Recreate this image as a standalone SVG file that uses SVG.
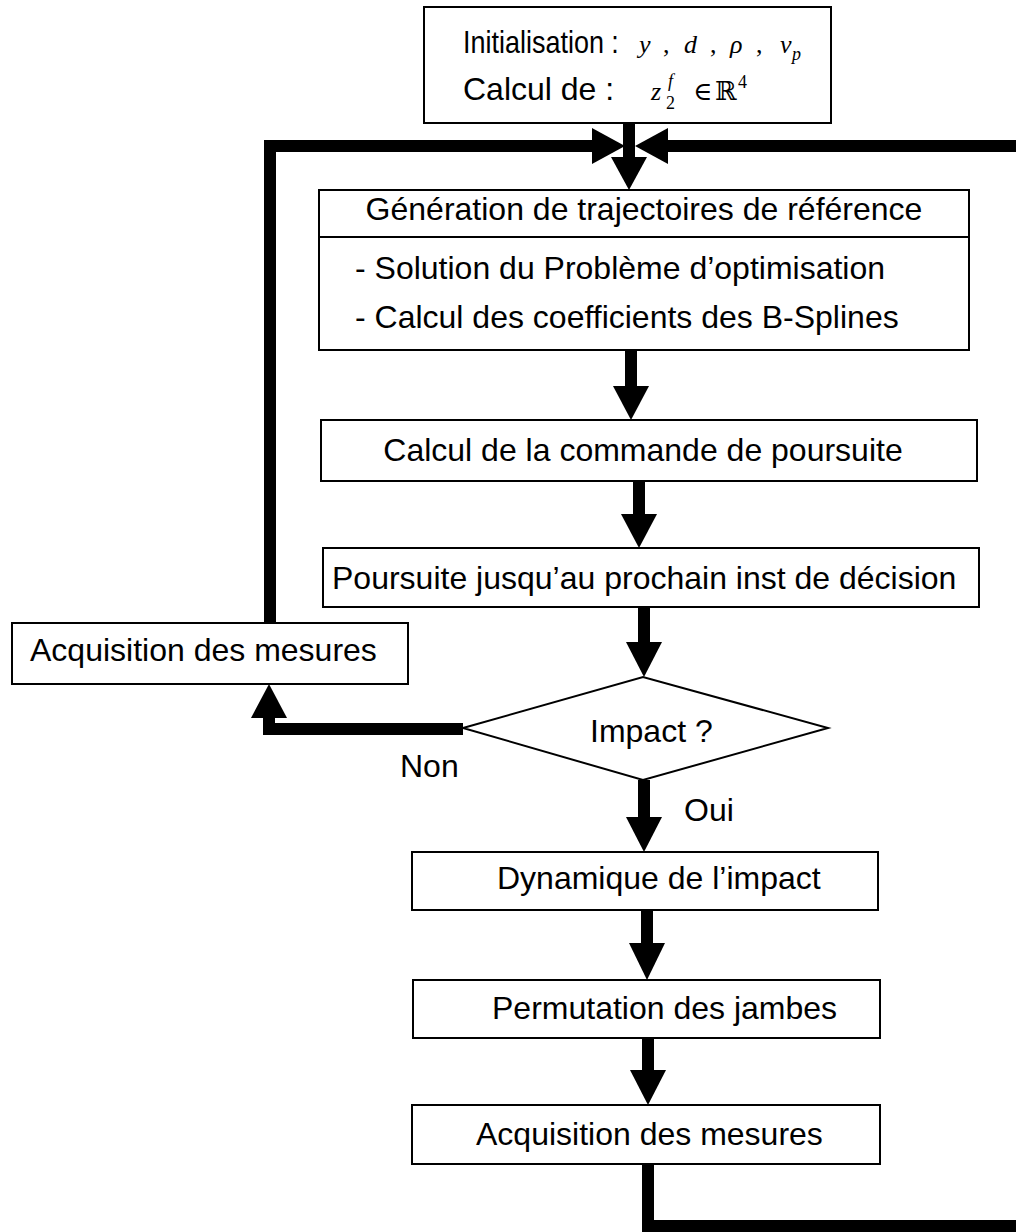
<svg xmlns="http://www.w3.org/2000/svg" width="1016" height="1232" viewBox="0 0 1016 1232">
<style>
.box{fill:#fff;stroke:#000;stroke-width:2}
.t{font-family:"Liberation Sans",Arial,sans-serif;font-size:32px;fill:#000}
.m{font-family:"Liberation Serif","Times New Roman",serif;font-size:26px;font-style:italic;fill:#000}
.mu{font-family:"Liberation Serif","DejaVu Serif","Times New Roman",serif;font-size:26px;font-style:normal;fill:#000}
.ms{font-family:"Liberation Serif","Times New Roman",serif;font-size:18px;fill:#000}
.ln{fill:none;stroke:#000;stroke-width:12;stroke-linejoin:miter;stroke-linecap:butt}
.hd{fill:#000;stroke:none}
</style>
<rect width="1016" height="1232" fill="#fff"/>
<g id="connectors">
<path class="ln" d="M629,123V158"/>
<polygon class="hd" points="611,157 647,157 629,190"/>
<path class="ln" d="M270,623V146H593"/>
<polygon class="hd" points="592,128 592,164 625,146"/>
<path class="ln" d="M1016,146H667"/>
<polygon class="hd" points="668,128 668,164 635,146"/>
<path class="ln" d="M631,350V387"/>
<polygon class="hd" points="613,386 649,386 631,420"/>
<path class="ln" d="M639,481V515"/>
<polygon class="hd" points="621,514 657,514 639,548"/>
<path class="ln" d="M644,607V643"/>
<polygon class="hd" points="626,642 662,642 644,677"/>
<path class="ln" d="M463,729H269V718"/>
<polygon class="hd" points="251,718 287,718 269,684"/>
<path class="ln" d="M644,780V818"/>
<polygon class="hd" points="626,817 662,817 644,852"/>
<path class="ln" d="M647,910V944"/>
<polygon class="hd" points="629,943 665,943 647,980"/>
<path class="ln" d="M648,1038V1071"/>
<polygon class="hd" points="630,1070 666,1070 648,1105"/>
<path class="ln" d="M648,1164V1226H1016"/>
</g>
<g id="init">
<rect class="box" x="424" y="7" width="407" height="116"/>
<text class="t" transform="translate(463,53) scale(0.843,1)">Initialisation :</text>
<text class="m" y="53"><tspan x="639">y</tspan><tspan class="mu" x="663">,</tspan><tspan x="684">d</tspan><tspan class="mu" x="710">,</tspan><tspan x="730">ρ</tspan><tspan class="mu" x="756">,</tspan><tspan x="780">v</tspan></text>
<text class="ms" x="792" y="60" font-style="italic">p</text>
<text class="t" x="463" y="100">Calcul de :</text>
<text class="m" x="651" y="100" font-size="28">z</text>
<text class="ms" x="666" y="109">2</text>
<text class="ms" x="668" y="87" font-style="italic">f</text>
<text class="mu" x="693" y="100">∈</text>
<text class="mu" x="715" y="100" font-size="28">ℝ</text>
<text class="ms" x="738" y="88">4</text>
</g>
<g id="generation">
<rect class="box" x="319" y="190" width="650" height="160"/>
<line x1="319" y1="237" x2="969" y2="237" stroke="#000" stroke-width="2"/>
<text class="t" x="644" y="220" text-anchor="middle">Génération de trajectoires de référence</text>
<text class="t" x="355" y="279">- Solution du Problème d’optimisation</text>
<text class="t" x="355" y="328">- Calcul des coefficients des B-Splines</text>
</g>
<g id="commande">
<rect class="box" x="321" y="420" width="656" height="61"/>
<text class="t" x="643" y="461" text-anchor="middle">Calcul de la commande de poursuite</text>
</g>
<g id="poursuite">
<rect class="box" x="323" y="548" width="656" height="59"/>
<text class="t" x="332" y="589">Poursuite jusqu’au prochain inst de décision</text>
</g>
<g id="acq-left">
<rect class="box" x="12" y="623" width="396" height="61"/>
<text class="t" x="30" y="661">Acquisition des mesures</text>
</g>
<g id="impact">
<polygon class="box" points="463,728 643,677 828,728 643,780"/>
<text class="t" x="590" y="742">Impact ?</text>
</g>
<text class="t" x="400" y="777">Non</text>
<text class="t" x="684" y="821">Oui</text>
<g id="dynamique">
<rect class="box" x="412" y="852" width="466" height="58"/>
<text class="t" x="497" y="889">Dynamique de l’impact</text>
</g>
<g id="permutation">
<rect class="box" x="413" y="980" width="467" height="58"/>
<text class="t" x="492" y="1019">Permutation des jambes</text>
</g>
<g id="acq-bottom">
<rect class="box" x="412" y="1105" width="468" height="59"/>
<text class="t" x="476" y="1145">Acquisition des mesures</text>
</g>
</svg>
